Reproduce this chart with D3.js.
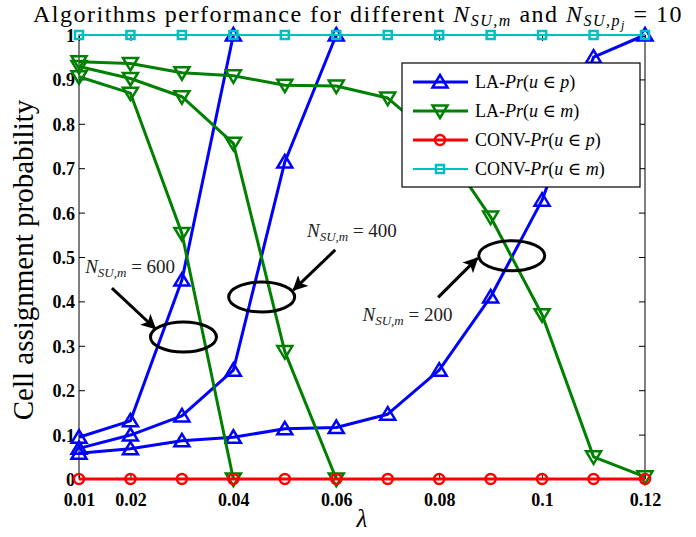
<!DOCTYPE html>
<html>
<head>
<meta charset="utf-8">
<script src="https://cdn.jsdelivr.net/npm/d3@7"></script>
<style>
    body { margin: 0; background: #fff; }
    text { font-family: "Liberation Serif", "DejaVu Serif", serif; }
</style>
</head>
<body>
<div id="chart"></div>
<script>
// lambda values on the x axis
const lambdas = [0.01, 0.02, 0.03, 0.04, 0.05, 0.06, 0.07, 0.08, 0.09, 0.1, 0.11, 0.12];

// LA - Pr(u in p), one curve per N_SU,m
const laPrP600 = [0.094, 0.131, 0.448, 1.0];
const laPrP400 = [0.069, 0.099, 0.142, 0.245, 0.714, 1.0];
const laPrP200 = [0.058, 0.068, 0.086, 0.094, 0.113, 0.116, 0.146, 0.245, 0.41, 0.628, 0.95, 1.0];

// LA - Pr(u in m)
const laPrM600 = [0.906, 0.869, 0.553, 0.0];
const laPrM400 = [0.929, 0.902, 0.861, 0.756, 0.287, 0.0];
const laPrM200 = [0.940, 0.936, 0.915, 0.908, 0.887, 0.885, 0.858, 0.76, 0.59, 0.37, 0.05, 0.005];

// conventional scheme
const convPrP = [0, 0, 0, 0, 0, 0, 0, 0, 0, 0, 0, 0];
const convPrM = [1, 1, 1, 1, 1, 1, 1, 1, 1, 1, 1, 1];

const xTicks = [0.01, 0.02, 0.04, 0.06, 0.08, 0.1, 0.12];
const xTickLabels = ["0.01", "0.02", "0.04", "0.06", "0.08", "0.1", "0.12"];
const yTicks = [0, 0.1, 0.2, 0.3, 0.4, 0.5, 0.6, 0.7, 0.8, 0.9, 1];
const yTickLabels = ["0", "0.1", "0.2", "0.3", "0.4", "0.5", "0.6", "0.7", "0.8", "0.9", "1"];

const legendLabels = [
    ["LA-", "p"], ["LA-", "m"], ["CONV-", "p"], ["CONV-", "m"]
];

// annotations (data units): label, text pos, arrow from/to, ellipse centre
const noteLabels = ["600", "400", "200"];
const noteText = [[0.0112, 0.463], [0.0543, 0.545], [0.0651, 0.356]];
const noteArrowFrom = [[0.0164, 0.430], [0.0598, 0.516], [0.0798, 0.409]];
const noteArrowTo = [[0.0248, 0.339], [0.0517, 0.426], [0.0874, 0.497]];
const noteEllipse = [[0.0303, 0.320], [0.0455, 0.410], [0.0941, 0.503]];

const BLUE = "#0000ff", GREEN = "#008000", RED = "#ff0000", CYAN = "#00bfbf";
const SERIF = "'Liberation Serif', 'DejaVu Serif', serif";

var margin = {top: 35, right: 51, bottom: 58, left: 79},
    width = 696 - margin.left - margin.right,
    height = 537 - margin.top - margin.bottom;

var root = d3.select("#chart")
    .append("svg")
        .attr("width", 696)
        .attr("height", 537);

var defs = root.append("defs");
defs.append("marker")
    .attr("id", "head")
    .attr("viewBox", "0 0 10 10")
    .attr("refX", 9).attr("refY", 5)
    .attr("markerWidth", 5).attr("markerHeight", 5)
    .attr("markerUnits", "strokeWidth")
    .attr("orient", "auto")
  .append("path")
    .attr("d", "M0,0 L10,5 L0,10 L2.5,5 Z")
    .attr("fill", "#000");

var svg = root.append("g")
    .attr("transform", "translate(" + margin.left + "," + margin.top + ")");

var x = d3.scaleLinear().domain([0.01, 0.12]).range([0, width]);
var y = d3.scaleLinear().domain([0, 1]).range([height, 0]);

function pairs(values) {
    return values.map(function(v, i) { return {x: lambdas[i], y: v}; });
}

function trianglePath(up) {
    var s = up ? 1 : -1;
    return "M0," + (-7 * s) + " L7.5," + (5.5 * s) + " L-7.5," + (5.5 * s) + " Z";
}

function addMarker(g, kind, color, px, py) {
    if (kind === "up" || kind === "down") {
        g.append("path")
            .attr("d", trianglePath(kind === "up"))
            .attr("transform", "translate(" + px + "," + py + ")")
            .attr("fill", "none")
            .attr("stroke", color)
            .attr("stroke-width", 2.5)
            .attr("stroke-linejoin", "miter");
    } else if (kind === "circle") {
        g.append("circle")
            .attr("cx", px).attr("cy", py).attr("r", 5)
            .attr("fill", "none")
            .attr("stroke", color)
            .attr("stroke-width", 2.5);
    } else {
        g.append("rect")
            .attr("x", px - 4).attr("y", py - 4)
            .attr("width", 8).attr("height", 8)
            .attr("fill", "none")
            .attr("stroke", color)
            .attr("stroke-width", 2.5);
    }
}

function addSeries(values, color, kind, lineWidth) {
    var data = pairs(values);
    var g = svg.append("g");
    g.append("path")
        .datum(data)
        .attr("fill", "none")
        .attr("stroke", color)
        .attr("stroke-width", lineWidth)
        .attr("stroke-linejoin", "round")
        .attr("d", d3.line()
            .x(function(d) { return x(d.x) })
            .y(function(d) { return y(d.y) }));
    data.forEach(function(d) {
        addMarker(g, kind, color, x(d.x), y(d.y));
    });
}

// axes box with inward ticks
svg.append("g")
    .attr("transform", "translate(0," + height + ")")
    .call(d3.axisBottom(x).tickValues(xTicks).tickSizeInner(-6).tickSizeOuter(0)
        .tickFormat(function(d, i) { return xTickLabels[i]; }))
    .call(function(g) {
        g.select(".domain").remove();
        g.selectAll("text").attr("y", 27).attr("dy", null);
    });
svg.append("g")
    .call(d3.axisTop(x).tickValues(xTicks).tickSizeInner(-6).tickSizeOuter(0).tickFormat(""))
    .call(function(g) { g.select(".domain").remove(); });
svg.append("g")
    .call(d3.axisLeft(y).tickValues(yTicks).tickSizeInner(-6).tickSizeOuter(0)
        .tickFormat(function(d, i) { return yTickLabels[i]; }))
    .call(function(g) {
        g.select(".domain").remove();
        g.selectAll("text").attr("x", -4).attr("dy", "0.36em");
    });
svg.append("g")
    .attr("transform", "translate(" + width + ",0)")
    .call(d3.axisRight(y).tickValues(yTicks).tickSizeInner(-6).tickSizeOuter(0).tickFormat(""))
    .call(function(g) { g.select(".domain").remove(); });

svg.selectAll(".tick line").attr("stroke", "#000").attr("stroke-width", 1);
svg.selectAll(".tick text")
    .attr("font-family", SERIF)
    .style("font-family", SERIF)
    .style("font-weight", "bold")
    .style("font-size", "18px")
    .attr("fill", "#000");

svg.append("rect")
    .attr("width", width).attr("height", height)
    .attr("fill", "none").attr("stroke", "#000").attr("stroke-width", 1);

// curves
addSeries(laPrP600, BLUE, "up", 3);
addSeries(laPrP400, BLUE, "up", 3);
addSeries(laPrP200, BLUE, "up", 3);
addSeries(laPrM600, GREEN, "down", 3);
addSeries(laPrM400, GREEN, "down", 3);
addSeries(laPrM200, GREEN, "down", 3);
addSeries(convPrP, RED, "circle", 3);
addSeries(convPrM, CYAN, "square", 2);

// annotations
noteLabels.forEach(function(label, i) {
    svg.append("ellipse")
        .attr("cx", x(noteEllipse[i][0]))
        .attr("cy", y(noteEllipse[i][1]))
        .attr("rx", 33).attr("ry", 15)
        .attr("fill", "none").attr("stroke", "#000").attr("stroke-width", 3);
    svg.append("line")
        .attr("x1", x(noteArrowFrom[i][0])).attr("y1", y(noteArrowFrom[i][1]))
        .attr("x2", x(noteArrowTo[i][0])).attr("y2", y(noteArrowTo[i][1]))
        .attr("stroke", "#000").attr("stroke-width", 3)
        .attr("marker-end", "url(#head)");
    var t = svg.append("text")
        .attr("x", x(noteText[i][0]))
        .attr("y", y(noteText[i][1]))
        .style("font-size", "19px")
        .attr("fill", "#222");
    t.append("tspan").style("font-style", "italic").text("N");
    t.append("tspan").style("font-style", "italic").style("font-size", "13px")
        .attr("dy", 4).text("SU,m");
    t.append("tspan").attr("dy", -4).text(" = " + label);
});

// legend
var legend = svg.append("g")
    .attr("transform", "translate(" + (width - 243) + ",28)");
legend.append("rect")
    .attr("width", 238).attr("height", 124)
    .attr("fill", "#fff").attr("stroke", "#000").attr("stroke-width", 1.2);
var legendStyles = [[BLUE, "up", 3], [GREEN, "down", 3], [RED, "circle", 3], [CYAN, "square", 2]];
legendLabels.forEach(function(lab, i) {
    var ly = 19 + i * 29;
    legend.append("line")
        .attr("x1", 11).attr("x2", 66).attr("y1", ly).attr("y2", ly)
        .attr("stroke", legendStyles[i][0]).attr("stroke-width", legendStyles[i][2]);
    addMarker(legend, legendStyles[i][1], legendStyles[i][0], 38, ly);
    var t = legend.append("text")
        .attr("x", 73).attr("y", ly + 6)
        .style("font-size", "18px");
    t.append("tspan").text(lab[0]);
    t.append("tspan").style("font-style", "italic").text("Pr");
    t.append("tspan").text("(");
    t.append("tspan").style("font-style", "italic").text("u");
    t.append("tspan").text(" \u2208 ");
    t.append("tspan").style("font-style", "italic").text(lab[1]);
    t.append("tspan").text(")");
});

// title and axis labels
var title = root.append("text")
    .attr("x", 358).attr("y", 21.5)
    .attr("text-anchor", "middle")
    .style("font-size", "24px")
    .style("letter-spacing", "1.5px");
title.append("tspan").text("Algorithms performance for different ");
title.append("tspan").style("font-style", "italic").text("N");
title.append("tspan").style("font-style", "italic").style("font-size", "16px").attr("dy", 4).text("SU,m");
title.append("tspan").attr("dy", -4).text(" and ");
title.append("tspan").style("font-style", "italic").text("N");
title.append("tspan").style("font-style", "italic").style("font-size", "16px").attr("dy", 4).text("SU,p");
title.append("tspan").style("font-style", "italic").style("font-size", "12px").attr("dy", 3).text("j");
title.append("tspan").attr("dy", -7).text(" = 10");

root.append("text")
    .attr("transform", "translate(33," + (margin.top + height / 2 + 3) + ") rotate(-90)")
    .attr("text-anchor", "middle")
    .style("font-size", "29px")
    .text("Cell assignment probability");

root.append("text")
    .attr("x", 362)
    .attr("y", 527)
    .attr("text-anchor", "middle")
    .style("font-size", "25px")
    .style("font-style", "italic")
    .text("\u03bb");
</script>
</body>
</html>
